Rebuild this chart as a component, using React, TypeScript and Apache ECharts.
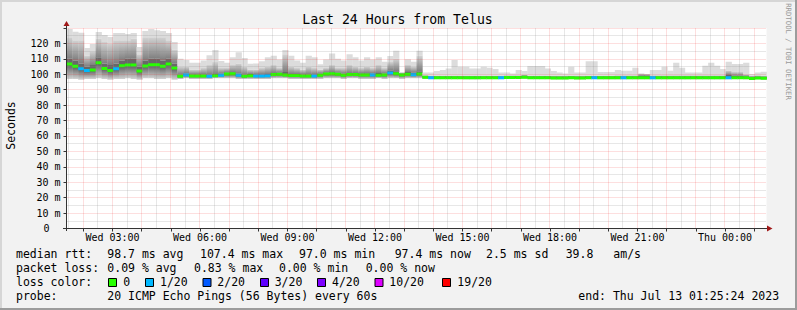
import { useEffect, useRef } from 'react';
import * as echarts from 'echarts';

// time axis in minutes after Wed 00:00 (start Wed 01:25:24, end Thu 01:25:24)
const START_MIN = 85.4;
const END_MIN = 1525.4;
const STEP_MIN = 12;

// per 12-minute bucket: median rtt (ms)
const median = [
  106.6, 105.2, 103.6, 102.5, 102.8, 107.4, 103.8, 102.5, 103.5, 105.5,
  106.0, 106.0, 102.2, 105.3, 106.2, 106.2, 105.2, 106.6, 104.0, 98.7,
  99.5, 98.9, 98.9, 98.9, 98.7, 99.1, 99.4, 100.1, 100.3, 99.3,
  98.7, 99.1, 98.9, 98.9, 99.1, 99.8, 100.0, 99.5, 99.2, 99.2,
  98.9, 98.9, 98.9, 99.4, 100.2, 100.3, 100.0, 99.4, 99.8, 99.8,
  99.6, 99.6, 99.5, 99.3, 99.5, 100.8, 100.3, 99.6, 100.0, 99.7,
  100.1, 98.0, 97.8, 97.8, 97.8, 97.8, 97.8, 97.8, 97.8, 97.7,
  97.7, 97.8, 97.8, 97.8, 97.8, 97.9, 97.9, 97.9, 98.1, 97.8,
  97.8, 97.8, 97.8, 97.6, 97.6, 97.6, 97.8, 97.6, 97.6, 97.8,
  97.8, 97.7, 97.7, 97.7, 97.7, 97.7, 97.7, 97.7, 97.7, 97.7,
  97.7, 97.7, 97.7, 97.7, 97.7, 97.7, 97.7, 97.7, 97.7, 97.7,
  97.7, 97.7, 97.7, 97.8, 97.8, 97.8, 97.7, 97.2, 97.6, 97.4,
];

// loss class index per bucket (0 = no loss, 1 = 1/20)
const lossIdx = [
  0, 0, 1, 1, 0, 0, 0, 0, 1, 0,
  0, 0, 0, 0, 0, 0, 0, 0, 0, 0,
  1, 0, 0, 0, 1, 0, 1, 0, 0, 1,
  0, 0, 1, 1, 1, 0, 0, 0, 0, 0,
  0, 0, 1, 0, 0, 0, 0, 0, 0, 0,
  0, 0, 1, 0, 0, 1, 0, 0, 0, 1,
  0, 0, 1, 0, 0, 0, 0, 0, 0, 0,
  0, 0, 0, 0, 1, 0, 0, 0, 0, 0,
  0, 0, 0, 0, 0, 0, 0, 0, 0, 0,
  1, 0, 0, 0, 0, 1, 0, 0, 0, 0,
  1, 0, 0, 0, 0, 0, 0, 0, 0, 0,
  0, 0, 0, 1, 0, 0, 0, 0, 0, 0,
];

// smoke: lowest ping
const smokeLow = [
  97, 97, 96.5, 97, 97, 97.5, 97, 96.5, 97, 97,
  97.5, 97, 96.5, 97.5, 97.5, 97, 97, 97.5, 96.5, 97,
  97.5, 97, 97, 97, 97, 97.5, 97.5, 97.5, 97.5, 97,
  97, 97, 97, 97, 97, 97.5, 97.5, 97.5, 97, 97,
  97, 97, 97, 97, 97.5, 97.5, 97.5, 97, 97.5, 97.5,
  97, 97, 97, 97.5, 97, 97.5, 97.5, 97, 97.5, 97.5,
  97.5, 97, 96.9, 96.9, 96.9, 96.9, 96.9, 96.9, 96.8, 96.8,
  96.8, 96.9, 96.9, 96.9, 96.9, 97, 97, 97, 97.1, 96.9,
  96.9, 96.9, 96.9, 96.7, 96.7, 96.7, 96.9, 96.7, 96.7, 96.9,
  96.9, 96.8, 96.8, 96.8, 96.8, 96.8, 96.8, 96.8, 96.8, 96.8,
  96.8, 96.8, 96.8, 96.8, 96.8, 96.8, 96.8, 96.8, 96.8, 96.8,
  96.8, 96.8, 96.8, 96.8, 96.9, 96.9, 96.8, 96.5, 96.7, 96.5,
];

// smoke: top of the dense (dark) part
const smokeHi1 = [
  110, 109, 107, 105, 106, 111, 107, 106, 107, 109,
  110, 110, 105, 109, 110, 110, 109, 110, 107, 99.7,
  100.5, 99.9, 99.9, 99.9, 99.7, 100.1, 100.4, 101.1, 101.3, 100.3,
  99.7, 100.1, 99.9, 99.9, 100.1, 100.8, 101.0, 101.5, 100.2, 100.2,
  99.9, 99.9, 99.9, 100.4, 101.2, 101.3, 101.0, 100.4, 100.8, 100.8,
  100.6, 100.6, 100.5, 100.8, 100.5, 102.3, 102, 100.4, 101.5, 101,
  102, 98.8, 98.6, 98.6, 98.6, 98.6, 98.6, 98.6, 98.6, 98.5,
  98.5, 98.6, 98.6, 98.6, 98.6, 98.7, 98.7, 98.7, 98.9, 98.6,
  98.6, 98.6, 98.6, 98.4, 98.4, 98.4, 98.6, 98.4, 98.4, 98.6,
  98.6, 98.5, 98.5, 98.5, 98.5, 98.5, 98.5, 98.5, 98.8, 99.2,
  98.5, 98.5, 98.5, 98.5, 98.5, 98.5, 98.5, 98.5, 98.5, 98.5,
  98.5, 98.5, 98.5, 99.5, 99, 99, 98.7, 98.2, 98.4, 98.2,
];

// smoke: top of the medium grey part
const smokeHi2 = [
  124, 122, 122, 112, 115, 123, 121, 120, 122, 122,
  122, 123, 113, 124, 124, 124, 124, 122, 116, 105,
  105, 103, 103, 104, 106, 108, 104, 104, 106, 107,
  105, 103, 103, 104, 105, 106, 104, 113, 105, 104,
  103, 105, 104, 103, 104, 106, 104, 104, 106, 105,
  104, 105, 104, 106, 104, 108, 110, 100.8, 106, 105,
  112, 99.3, 99.2, 99.2, 99.2, 99.2, 99.2, 99.2, 99.2, 99.0,
  99.0, 99.2, 99.2, 99.2, 99.2, 99.3, 99.3, 99.3, 99.6, 99.2,
  99.2, 99.2, 99.2, 99.0, 99.0, 99.0, 99.2, 99.0, 99.0, 99.2,
  99.2, 99.1, 99.1, 99.2, 99.3, 99.3, 99.3, 99.3, 100.5, 100.1,
  99.3, 99.3, 99.3, 99.3, 99.3, 99.3, 99.3, 99.3, 99.3, 99.3,
  99.3, 99.3, 99.3, 102.5, 101.5, 101.5, 100, 99.0, 99.3, 99.0,
];

// smoke: highest ping
const smokeTop = [
  129.3, 127.6, 127, 117, 119.6, 127.4, 125.4, 124.1, 126.8, 126.8,
  126.1, 126.8, 117.6, 128, 129.3, 128.6, 128, 126.8, 120.9, 110,
  109.2, 107.5, 107.5, 109, 112.4, 115.7, 108.6, 107.5, 111, 114.2,
  110.5, 106.8, 107, 108.5, 111, 112, 109.5, 115.7, 112, 109,
  107.5, 112, 111, 106.5, 109.5, 113.5, 110, 109, 113, 111,
  109, 111, 109.5, 111, 108.1, 111.8, 115.3, 101.5, 109.8, 108.1,
  115.3, 101.2, 101.2, 102.1, 102.7, 103.8, 109.2, 104.9, 104.9, 103.8,
  103.8, 104.9, 104.2, 103.4, 101.2, 101.2, 100.5, 102.7, 102.1, 105.3,
  105.3, 105.3, 103.8, 102.1, 101.2, 100.5, 104.9, 101.2, 101.2, 108.5,
  108.5, 101.4, 101.4, 101.5, 102.7, 102.3, 102.3, 104.3, 100.5, 100.1,
  102.7, 102.7, 104.9, 102.3, 107.5, 104.3, 101.2, 101.2, 101.2, 105.5,
  107.5, 105.5, 103.4, 108.1, 106.6, 106.6, 107.5, 100.1, 101.2, 101.6,
];

const lossColors = ['#26ff00', '#00b8ff', '#0059ff', '#5e00ff', '#7e00ff', '#dd00ff', '#ff0000'];
const lossLabels = ['0', '1/20', '2/20', '3/20', '4/20', '10/20', '19/20'];

const xLabelMinutes = [180, 360, 540, 720, 900, 1080, 1260, 1440];
const xLabelTexts = ['Wed 03:00', 'Wed 06:00', 'Wed 09:00', 'Wed 12:00', 'Wed 15:00', 'Wed 18:00', 'Wed 21:00', 'Thu 00:00'];

const titleText = 'Last 24 Hours from Telus';
const yAxisName = 'Seconds';
const rttLabel = 'median rtt:';
const rttStats = ['98.7 ms avg', '107.4 ms max', '97.0 ms min', '97.4 ms now', '2.5 ms sd', '39.8', 'am/s'];
const lossLabel = 'packet loss:';
const lossStats = ['0.09 % avg', '0.83 % max', '0.00 % min', '0.00 % now'];
const colorLabel = 'loss color:';
const probeLabel = 'probe:';
const probeText = '20 ICMP Echo Pings (56 Bytes) every 60s';
const endText = 'end: Thu Jul 13 01:25:24 2023';
const sideText = 'RRDTOOL / TOBI OETIKER';

// layout
const FONT = '"DejaVu Sans Mono", monospace';
const GRID_L = 66.5;
const GRID_T = 28;
const GRID_W = 700;
const GRID_H = 200.5;
const rttX = [107.3, 200, 299, 394.7, 486, 565.7, 613.3];
const lossX = [107.3, 194, 279, 365.7];
const boxX = [108.5, 145.5, 203, 260.5, 317.5, 375, 442.5];
const boxLabelX = [123.3, 160, 217.3, 274.7, 332, 389.3, 457.3];
const ROWS = [254.3, 268.3, 282.3, 296.2];

export default function App() {
  const ref = useRef<HTMLDivElement>(null);
  useEffect(() => {
    document.body.style.margin = '0';
    const chart = echarts.init(ref.current as HTMLDivElement, null, { renderer: 'svg' });

    const smokeData = median.map((m, i) => [
      START_MIN + i * STEP_MIN,
      START_MIN + (i + 1) * STEP_MIN,
      smokeLow[i], m, smokeHi1[i], smokeHi2[i], smokeTop[i], lossIdx[i],
    ]);

    const vGrid: number[][] = [];
    for (let m = 90; m < END_MIN; m += 30) vGrid.push([m, m % 60 === 0 ? 1 : 0]);
    const hourTicks: number[] = [];
    for (let m = 120; m < END_MIN; m += 60) hourTicks.push(m);

    const upperGrad = new echarts.graphic.LinearGradient(0, 0, 0, 1, [
      { offset: 0, color: '#d2d2d2' },
      { offset: 1, color: '#7e7e7e' },
    ]);
    const lowerGrad = new echarts.graphic.LinearGradient(0, 0, 0, 1, [
      { offset: 0, color: '#5a5a5a' },
      { offset: 1, color: '#d0d0d0' },
    ]);

    const majorGrid = 'rgba(240,40,40,0.3)';
    const minorGrid = 'rgba(140,140,140,0.42)';

    const txt = (text: string, x: number, y: number, size: number, extra: any = {}) => ({
      type: 'text', x, y, z: 20,
      style: { text, font: `${size}px ${FONT}`, fill: '#000', textAlign: 'left', textVerticalAlign: 'middle', ...extra },
    });

    const LEG = 11.5;
    const graphics: any[] = [
      { type: 'rect', z: 20, shape: { x: 0, y: 0, width: 797, height: 2 }, style: { fill: '#d6d6d6' } },
      { type: 'rect', z: 20, shape: { x: 0, y: 0, width: 2, height: 310 }, style: { fill: '#d6d6d6' } },
      { type: 'rect', z: 20, shape: { x: 0, y: 308, width: 797, height: 2 }, style: { fill: '#9c9c9c' } },
      { type: 'rect', z: 20, shape: { x: 795, y: 0, width: 2, height: 310 }, style: { fill: '#9c9c9c' } },
      // axes
      { type: 'line', z: 20, shape: { x1: 66.5, y1: 231, x2: 66.5, y2: 24 }, style: { stroke: '#333', lineWidth: 1 } },
      { type: 'line', z: 20, shape: { x1: 63, y1: 228.5, x2: 769, y2: 228.5 }, style: { stroke: '#333', lineWidth: 1 } },
      { type: 'polygon', z: 21, shape: { points: [[63.5, 26], [69.5, 26], [66.5, 21]] }, style: { fill: '#a01818' } },
      { type: 'polygon', z: 21, shape: { points: [[767, 225.5], [767, 231.5], [772.5, 228.5]] }, style: { fill: '#a01818' } },
      // title and side texts
      txt(titleText, 397.5, 19, 13.2, { textAlign: 'center' }),
      { type: 'text', x: 11, y: 125.5, rotation: Math.PI / 2, z: 20,
        style: { text: yAxisName, font: `11.5px ${FONT}`, fill: '#000', textAlign: 'center', textVerticalAlign: 'middle' } },
      { type: 'text', x: 788.5, y: 51.5, rotation: -Math.PI / 2, z: 20,
        style: { text: sideText, font: `7.3px ${FONT}`, fill: '#9a9a9a', textAlign: 'center', textVerticalAlign: 'middle' } },
      // legend rows
      txt(rttLabel, 16, ROWS[0], LEG),
      ...rttStats.map((s, i) => txt(s, rttX[i], ROWS[0], LEG)),
      txt(lossLabel, 16, ROWS[1], LEG),
      ...lossStats.map((s, i) => txt(s, lossX[i], ROWS[1], LEG)),
      txt(colorLabel, 16, ROWS[2], LEG),
      ...lossColors.map((c, i) => ({
        type: 'rect', z: 20, shape: { x: boxX[i], y: 278.5, width: 8, height: 8 },
        style: { fill: c, stroke: '#000', lineWidth: 1 },
      })),
      ...lossLabels.map((s, i) => txt(s, boxLabelX[i], ROWS[2], LEG)),
      txt(probeLabel, 16, ROWS[3], LEG),
      txt(probeText, 107.3, ROWS[3], LEG),
      txt(endText, 578.3, ROWS[3], LEG),
    ];

    const option: any = {
      animation: false,
      backgroundColor: '#f2f2f2',
      grid: {
        left: GRID_L, top: GRID_T, width: GRID_W, height: GRID_H,
        show: true, backgroundColor: '#ffffff', borderWidth: 0,
        containLabel: false, outerBoundsMode: 'none',
      },
      xAxis: {
        type: 'value', min: START_MIN, max: END_MIN,
        axisLine: { show: false },
        axisTick: { show: true, customValues: hourTicks, length: 3, lineStyle: { color: '#333' } },
        axisLabel: {
          customValues: xLabelMinutes,
          formatter: (v: number) => {
            const i = xLabelMinutes.findIndex((m) => Math.abs(m - v) < 0.01);
            return i >= 0 ? xLabelTexts[i] : '';
          },
          fontFamily: FONT, fontSize: 10, color: '#000', margin: 4,
        },
        splitLine: { show: false },
      },
      yAxis: {
        type: 'value', min: 0, max: 130, interval: 10, z: 4,
        axisLine: { show: false },
        axisTick: { show: true, length: 3, lineStyle: { color: '#333' } },
        axisLabel: {
          formatter: (v: number) => (v === 0 ? '{z|0}' : v >= 130 ? '' : `${v} m`),
          rich: { z: { fontFamily: FONT, fontSize: 10, color: '#000', padding: [0, 11, 0, 0] } },
          fontFamily: FONT, fontSize: 10, color: '#000', margin: 6,
        },
        splitLine: { show: true, lineStyle: { color: majorGrid, type: [1, 1], width: 1 } },
        minorTick: { show: false, splitNumber: 2 },
        minorSplitLine: { show: true, lineStyle: { color: minorGrid, type: [1, 1], width: 1 } },
      },
      series: [
        {
          type: 'custom',
          name: 'smoke',
          clip: true,
          z: 2,
          silent: true,
          encode: { x: [0, 1], y: [2, 6] },
          data: smokeData,
          renderItem: (_p: any, api: any) => {
            const xs = api.value(0);
            const xe = api.value(1);
            const lo = api.value(2);
            const md = api.value(3);
            const h1 = api.value(4);
            const h2 = api.value(5);
            const tp = api.value(6);
            const li = api.value(7);
            const a = api.coord([xs, 0]);
            const b = api.coord([xe, 0]);
            const x = a[0];
            const w = b[0] - a[0] + 0.35;
            const Y = (v: number) => api.coord([xs, v])[1];
            const band = (v1: number, v2: number, fill: any) => ({
              type: 'rect',
              shape: { x, y: Y(v2), width: w, height: Math.max(0, Y(v1) - Y(v2)) },
              style: { fill },
            });
            return {
              type: 'group',
              children: [
                band(h2, tp, '#dcdcdc'),
                band(h1, h2, upperGrad),
                band(md, h1, '#686868'),
                band(lo, md, lowerGrad),
                { type: 'rect', shape: { x, y: Y(md) - 1.5, width: w, height: 3 }, style: { fill: lossColors[li] } },
              ],
            };
          },
        },
        {
          type: 'custom',
          name: 'vgrid',
          z: 4,
          silent: true,
          encode: { x: 0, y: 1 },
          data: vGrid,
          renderItem: (_p: any, api: any) => {
            const v = api.value(0);
            const p0 = api.coord([v, 0]);
            const p1 = api.coord([v, 130]);
            const x = Math.round(p0[0] - 0.5) + 0.5;
            return {
              type: 'line',
              shape: { x1: x, y1: p0[1], x2: x, y2: p1[1] },
              style: { stroke: api.value(1) === 1 ? majorGrid : minorGrid, lineWidth: 1, lineDash: [1, 1] },
            };
          },
        },
      ],
      graphic: { elements: graphics },
    };

    chart.setOption(option);
    return () => chart.dispose();
  }, []);

  return <div ref={ref} style={{ position: 'absolute', left: 0, top: 0, width: 797, height: 310 }} />;
}
